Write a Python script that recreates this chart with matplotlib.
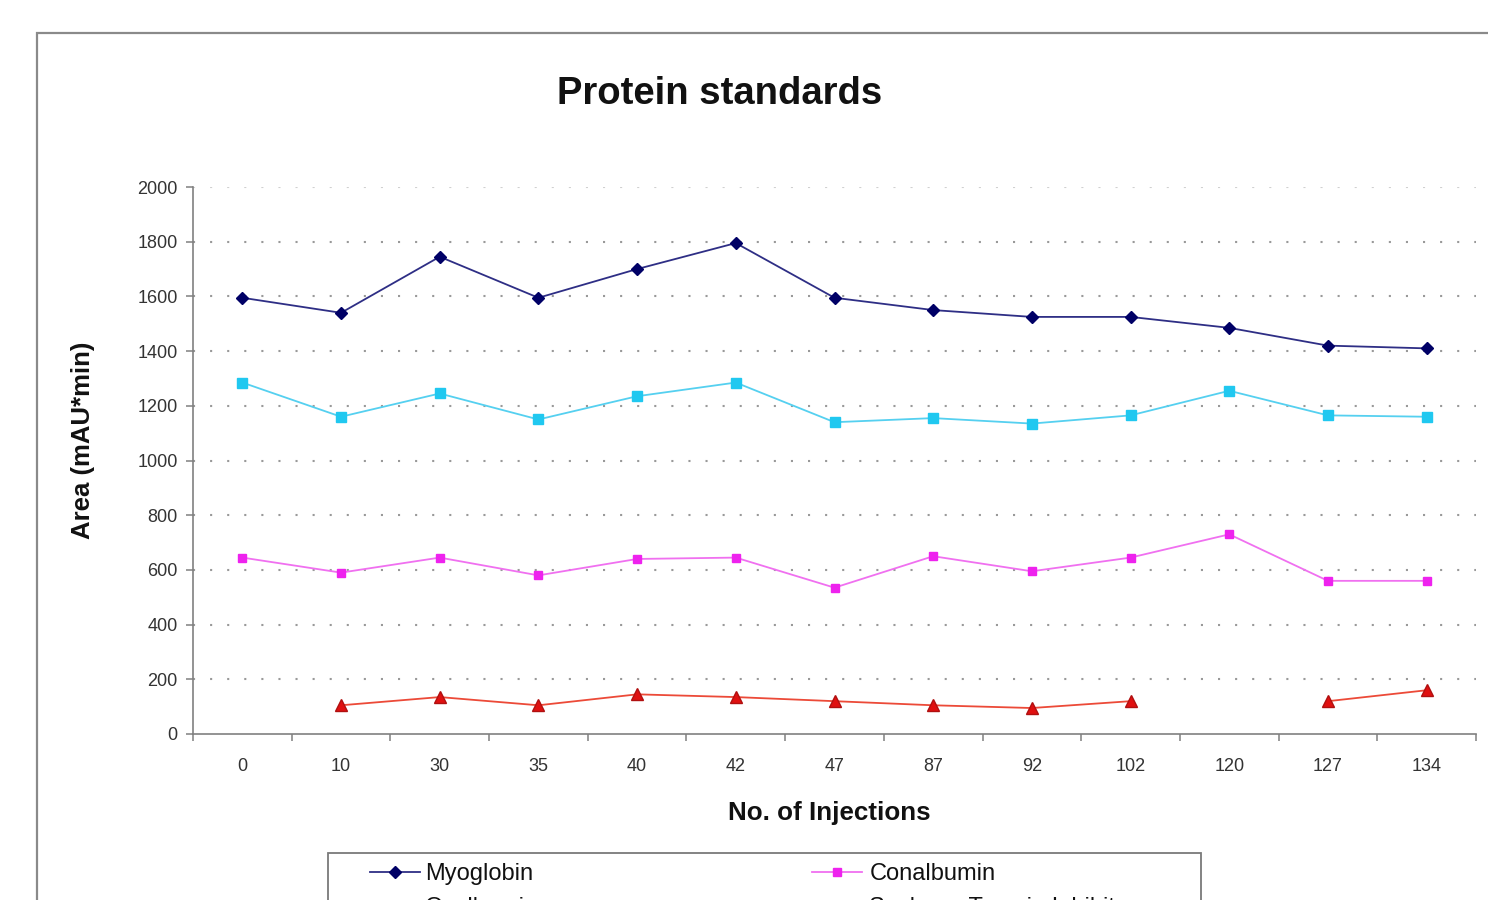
import numpy as np
import matplotlib
matplotlib.use("Agg")
import matplotlib.pyplot as plt
from matplotlib.patches import Rectangle

plt.rcParams["font.family"] = ["Liberation Sans", "DejaVu Sans"]

# Injection counts (categorical x axis)
injections = ["0", "10", "30", "35", "40", "42", "47", "87", "92", "102", "120", "127", "134"]

# Peak areas (mAU*min)
myoglobin = [1595, 1540, 1745, 1595, 1700, 1795, 1595, 1550, 1525, 1525, 1485, 1420, 1410]
ovalbumin = [1285, 1160, 1245, 1150, 1235, 1285, 1140, 1155, 1135, 1165, 1255, 1165, 1160]
conalbumin = [645, 590, 645, 580, 640, 645, 535, 650, 595, 645, 730, 560, 560]
trypsin_inhibitor = [np.nan, 105, 135, 105, 145, 135, 120, 105, 95, 120, np.nan, 120, 160]

W, H = 1488, 900
fig = plt.figure(figsize=(W / 100, H / 100), dpi=100)
fig.patch.set_facecolor("white")

# Chart-area frame running off the right and bottom edges
fig.patches.append(Rectangle((37 / W, -0.2), 2.0, (1 - 33 / H) + 0.2,
                             transform=fig.transFigure, fill=False,
                             edgecolor="#8a8a8a", linewidth=1.6, zorder=0))

ax = fig.add_axes([193 / W, 1 - 734 / H, (1476 - 193) / W, (734 - 187) / H])
ax.set_facecolor("none")

x = np.arange(len(injections))

l_myo, = ax.plot(x, myoglobin, color="#2e2e85", lw=1.3, marker="D", ms=6,
                 mfc="#000066", mec="#000066", label="Myoglobin", zorder=4)
l_ova, = ax.plot(x, ovalbumin, color="#55d0f0", lw=1.3, marker="s", ms=6.5,
                 mfc="#20c8f0", mec="#20c8f0", label="Ovalbumin", zorder=4)
l_con, = ax.plot(x, conalbumin, color="#f070f0", lw=1.3, marker="s", ms=6,
                 mfc="#ee22ee", mec="#ee22ee", label="Conalbumin", zorder=4)
l_sti, = ax.plot(x, trypsin_inhibitor, color="#ec4a38", lw=1.3, marker="^", ms=8,
                 mfc="#e01010", mec="#b01010", label="Soybean Trypsin Inhibitor", zorder=4)

ax.set_xlim(-0.5, len(injections) - 0.5)
ax.set_ylim(0, 2000)
ax.set_yticks(np.arange(0, 2001, 200))

# Dotted horizontal gridlines
for yv in np.arange(200, 2001, 200):
    ax.axhline(yv, color="#999999" if yv < 2000 else "#d0d0d0", lw=1.5,
               ls=(0, (1, 7.2)), zorder=1)

for side in ("top", "right"):
    ax.spines[side].set_visible(False)
for side in ("left", "bottom"):
    ax.spines[side].set_color("#808080")
    ax.spines[side].set_linewidth(1.2)

ax.set_xticks(x)
ax.set_xticklabels(injections)
ax.set_xticks(np.arange(-0.5, len(injections)), minor=True)
ax.tick_params(axis="x", which="major", length=0, pad=17, labelsize=13, labelcolor="#333333")
ax.tick_params(axis="x", which="minor", length=5, width=1.1, color="#808080", direction="out")
ax.tick_params(axis="y", which="major", length=5, width=1.1, color="#808080",
               pad=6, labelsize=13, labelcolor="#333333")

ax.set_xlabel("No. of Injections", fontsize=18.7, fontweight="bold", va="center", color="#111111")
ax.xaxis.set_label_coords(0.4957, -0.1444)
ax.set_ylabel("Area (mAU*min)", fontsize=18.5, fontweight="bold", va="center", ha="center",
              color="#111111")
ax.yaxis.set_label_coords(-0.0857, 0.5375)

fig.text(720 / W, 1 - 94 / H, "Protein standards", fontsize=27.5, fontweight="bold",
         ha="center", va="center", color="#111111")

# Legend box (runs past the bottom edge) with two columns of entries
fig.patches.append(Rectangle((328 / W, -0.2), (1201 - 328) / W, (1 - 853 / H) + 0.2,
                             transform=fig.transFigure, fill=True, facecolor="white",
                             edgecolor="#7a7a7a", linewidth=1.3, zorder=1))

leg_kw = dict(loc="upper left", frameon=False, fontsize=17, handlelength=2.1,
              borderaxespad=0, borderpad=0, labelspacing=0.5, labelcolor="#111111")
leg1 = fig.legend([l_myo, l_ova], ["Myoglobin", "Ovalbumin"],
                  bbox_to_anchor=(370 / W, 1 - 863 / H), handletextpad=0.22, **leg_kw)
leg2 = fig.legend([l_con, l_sti], ["Conalbumin", "Soybean Trypsin Inhibitor"],
                  bbox_to_anchor=(812 / W, 1 - 863 / H), handletextpad=0.33, **leg_kw)
for lg in (leg1, leg2):
    lg.set_zorder(3)

fig.savefig("out.png", dpi=100)
